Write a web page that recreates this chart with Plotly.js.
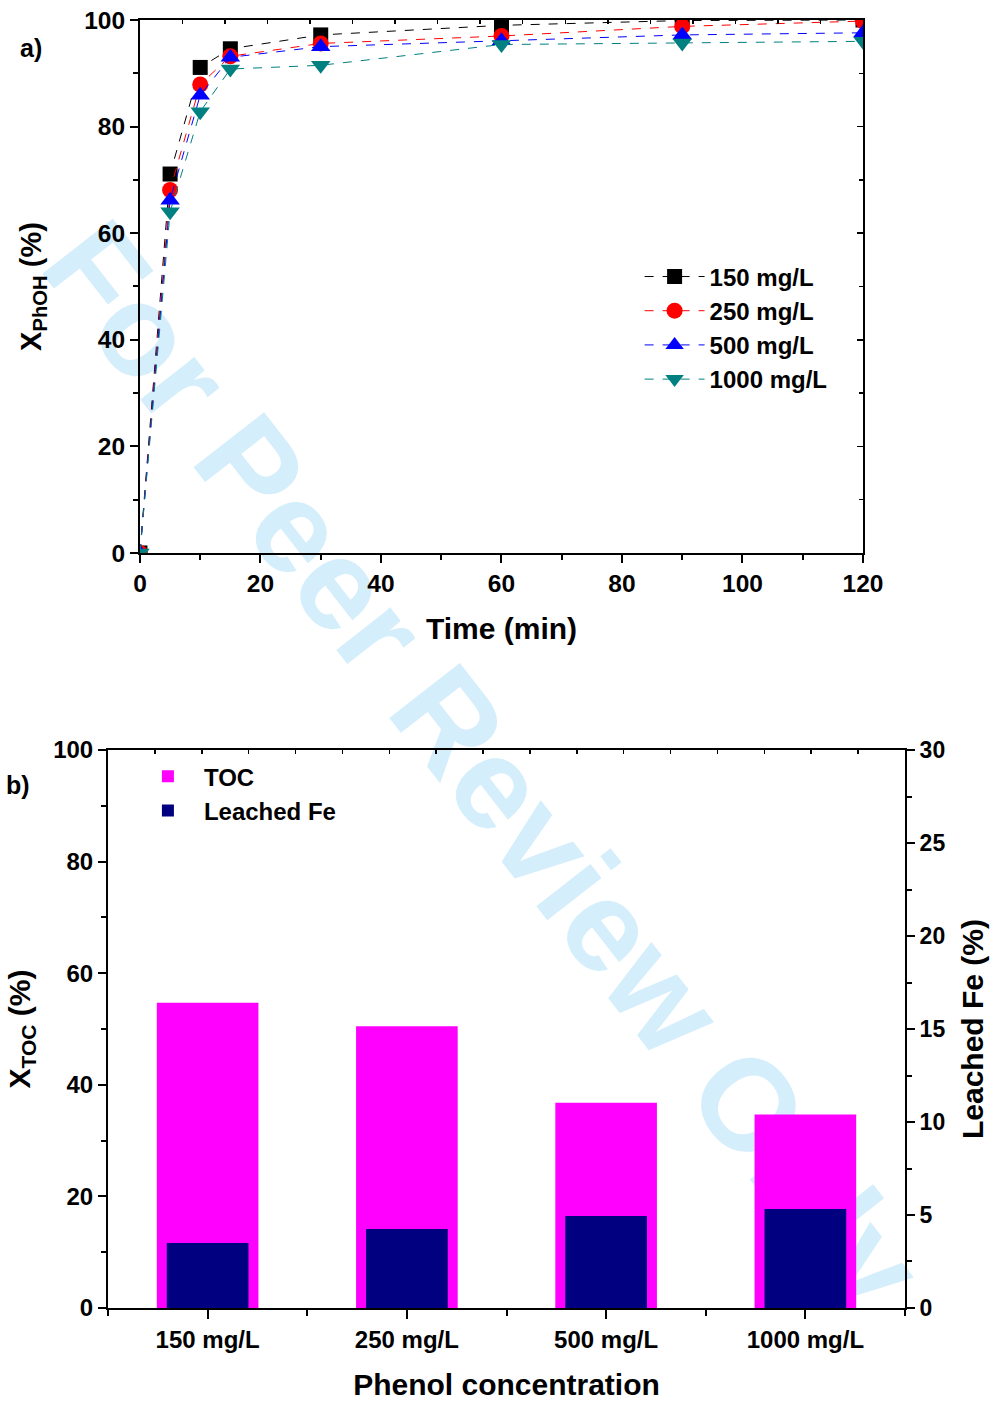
<!DOCTYPE html>
<html>
<head>
<meta charset="utf-8">
<script src="https://cdn.plot.ly/plotly-3.0.1.min.js"></script>
<style>
html,body{margin:0;padding:0;background:#fff;}
#wrap{position:relative;width:995px;height:1401px;overflow:hidden;}
#wm{position:absolute;left:484px;top:766px;transform:translate(-50%,-50%) rotate(52deg);
  font-family:'Liberation Sans',Arial,sans-serif;font-weight:bold;font-size:130px;color:#d5eefb;white-space:nowrap;z-index:0;line-height:1;}
#chart{position:absolute;left:0;top:0;width:995px;height:1401px;z-index:1;}
</style>
</head>
<body>
<div id="wrap">
<div id="wm">For Peer Review Only</div>
<div id="chart"></div>
</div>
<script>
// ---- Panel a) data ----
const time = [0, 5, 10, 15, 30, 60, 90, 120];
const c150 = [0, 71.1, 91.1, 94.6, 97.2, 99.0, 99.9, 100];
const c250 = [0, 68.1, 87.9, 93.2, 95.6, 97.0, 98.8, 99.8];
const c500 = [0, 66.2, 85.9, 93.0, 95.0, 96.1, 97.2, 97.6];
const c1000 = [0, 64.0, 82.8, 90.8, 91.5, 95.4, 95.7, 96.0];
const seriesNames = ['150 mg/L', '250 mg/L', '500 mg/L', '1000 mg/L'];

// ---- Panel b) data ----
const categories = ['150 mg/L', '250 mg/L', '500 mg/L', '1000 mg/L'];
const tocValues = [54.7, 50.5, 36.8, 34.7];
const feValues = [3.5, 4.25, 4.95, 5.32];
const catIndex = categories.map((c, i) => i);

const FONT = 'Liberation Sans, Arial, sans-serif';
const bold = (size, color) => ({family: FONT, size: size, color: color || '#000', weight: 'bold'});

const lineSeries = [
  {y: c150, color: '#000000', symbol: 'square', size: 15},
  {y: c250, color: '#ff0000', symbol: 'circle', size: 16},
  {y: c500, color: '#0000ff', symbol: 'triangle-up', size: 17},
  {y: c1000, color: '#008080', symbol: 'triangle-down', size: 17}
];

const traces = lineSeries.map((s, i) => ({
  type: 'scatter', mode: 'lines+markers', x: time, y: s.y, name: seriesNames[i],
  xaxis: 'x', yaxis: 'y', legend: 'legend',
  line: {color: s.color, width: 1, dash: 'dash'},
  marker: {color: s.color, symbol: s.symbol, size: s.size, line: {width: 0}}
}));

// empty traces that carry the frame axes
traces.push({type: 'scatter', x: [], y: [], xaxis: 'x3', yaxis: 'y', showlegend: false, hoverinfo: 'skip'});
traces.push({type: 'scatter', x: [], y: [], xaxis: 'x', yaxis: 'y3', showlegend: false, hoverinfo: 'skip'});

traces.push({
  type: 'bar', x: catIndex, y: tocValues, name: 'TOC', xaxis: 'x2', yaxis: 'y2', legend: 'legend2',
  width: 0.51, offset: -0.255, marker: {color: '#ff00ff', line: {width: 0}}
});
traces.push({
  type: 'bar', x: catIndex, y: feValues, name: 'Leached Fe', xaxis: 'x2', yaxis: 'y4', legend: 'legend2',
  width: 0.41, offset: -0.205, marker: {color: '#000080', line: {width: 0}}
});
traces.push({type: 'scatter', x: [], y: [], xaxis: 'x4', yaxis: 'y2', showlegend: false, hoverinfo: 'skip'});

const axBase = {
  showline: true, linewidth: 2, linecolor: '#000', zeroline: false, showgrid: false,
  ticks: 'outside', tickwidth: 2, tickcolor: '#000', automargin: false
};
const minorOut = (d, t0) => ({dtick: d, tick0: t0 || 0, ticklen: 5, tickwidth: 2, ticks: 'outside', tickcolor: '#000'});

const layout = {
  width: 995, height: 1401,
  margin: {l: 108, r: 90, t: 20, b: 93},
  paper_bgcolor: 'rgba(0,0,0,0)', plot_bgcolor: 'rgba(0,0,0,0)',
  barmode: 'overlay',
  showlegend: true,
  xaxis: Object.assign({}, axBase, {
    domain: [0.0401, 0.9473], anchor: 'y', range: [0, 120], dtick: 20, tick0: 0, ticklen: 8,
    minor: minorOut(10),
    tickfont: bold(24.5),
    title: {text: 'Time (min)', font: bold(30), standoff: 22}
  }),
  yaxis: Object.assign({}, axBase, {
    domain: [0.5862, 1], anchor: 'x', range: [0, 100], dtick: 20, tick0: 0, ticklen: 8,
    minor: minorOut(10),
    tickfont: bold(24.5),
    title: {text: 'X<sub>PhOH</sub> (%)', font: bold(29), standoff: 34}
  }),
  xaxis3: {
    overlaying: 'x', anchor: 'y', side: 'top', range: [0, 17], dtick: 1, tick0: 0,
    ticks: 'inside', ticklen: 4, tickwidth: 1.5, tickcolor: '#000', showticklabels: false,
    showline: true, linewidth: 2, linecolor: '#000', showgrid: false, zeroline: false
  },
  yaxis3: {
    overlaying: 'y', anchor: 'x', side: 'right', range: [0, 100], dtick: 20, tick0: 0,
    ticks: 'inside', ticklen: 6, tickwidth: 1.5, tickcolor: '#000', showticklabels: false,
    minor: {dtick: 10, tick0: 0, ticklen: 4, tickwidth: 1.5, ticks: 'inside', tickcolor: '#000'},
    showline: true, linewidth: 2, linecolor: '#000', showgrid: false, zeroline: false
  },
  xaxis2: Object.assign({}, axBase, {
    domain: [0, 1], anchor: 'y2', range: [-0.5, 3.5], tickmode: 'array',
    tickvals: catIndex, ticktext: categories, ticklen: 9,
    minor: {tickmode: 'linear', tick0: -0.5, dtick: 1, ticklen: 6, tickwidth: 2, ticks: 'outside', tickcolor: '#000'},
    tickfont: bold(24),
    title: {text: 'Phenol concentration', font: bold(30), standoff: 22}
  }),
  yaxis2: Object.assign({}, axBase, {
    domain: [0, 0.4332], anchor: 'x2', range: [0, 100], dtick: 20, tick0: 0, ticklen: 8,
    minor: minorOut(10),
    tickfont: bold(24),
    title: {text: 'X<sub>TOC</sub> (%)', font: bold(30), standoff: 14}
  }),
  yaxis4: Object.assign({}, axBase, {
    overlaying: 'y2', anchor: 'x2', side: 'right', range: [0, 30], dtick: 5, tick0: 0, ticklen: 8,
    minor: minorOut(2.5),
    tickfont: bold(23),
    title: {text: 'Leached Fe (%)', font: bold(30), standoff: 18}
  }),
  xaxis4: {
    overlaying: 'x2', anchor: 'y2', side: 'top', range: [0, 17], dtick: 1, tick0: 0,
    ticks: 'inside', ticklen: 4, tickwidth: 1.5, tickcolor: '#000', showticklabels: false,
    showline: true, linewidth: 2, linecolor: '#000', showgrid: false, zeroline: false
  },
  legend: {
    x: 0.667, y: 0.818, xanchor: 'left', yanchor: 'top',
    bgcolor: 'rgba(0,0,0,0)', borderwidth: 0, font: bold(24), itemwidth: 60
  },
  legend2: {
    x: 0.03, y: 0.43, xanchor: 'left', yanchor: 'top',
    bgcolor: 'rgba(0,0,0,0)', borderwidth: 0, font: bold(24), itemwidth: 62
  },
  annotations: [
    {text: 'a)', xref: 'paper', yref: 'paper', x: -0.113, y: 0.991, showarrow: false, font: bold(25)},
    {text: 'b)', xref: 'paper', yref: 'paper', x: -0.130, y: 0.406, showarrow: false, font: bold(25)}
  ]
};

Plotly.newPlot('chart', traces, layout, {displayModeBar: false, staticPlot: true});
</script>
</body>
</html>
